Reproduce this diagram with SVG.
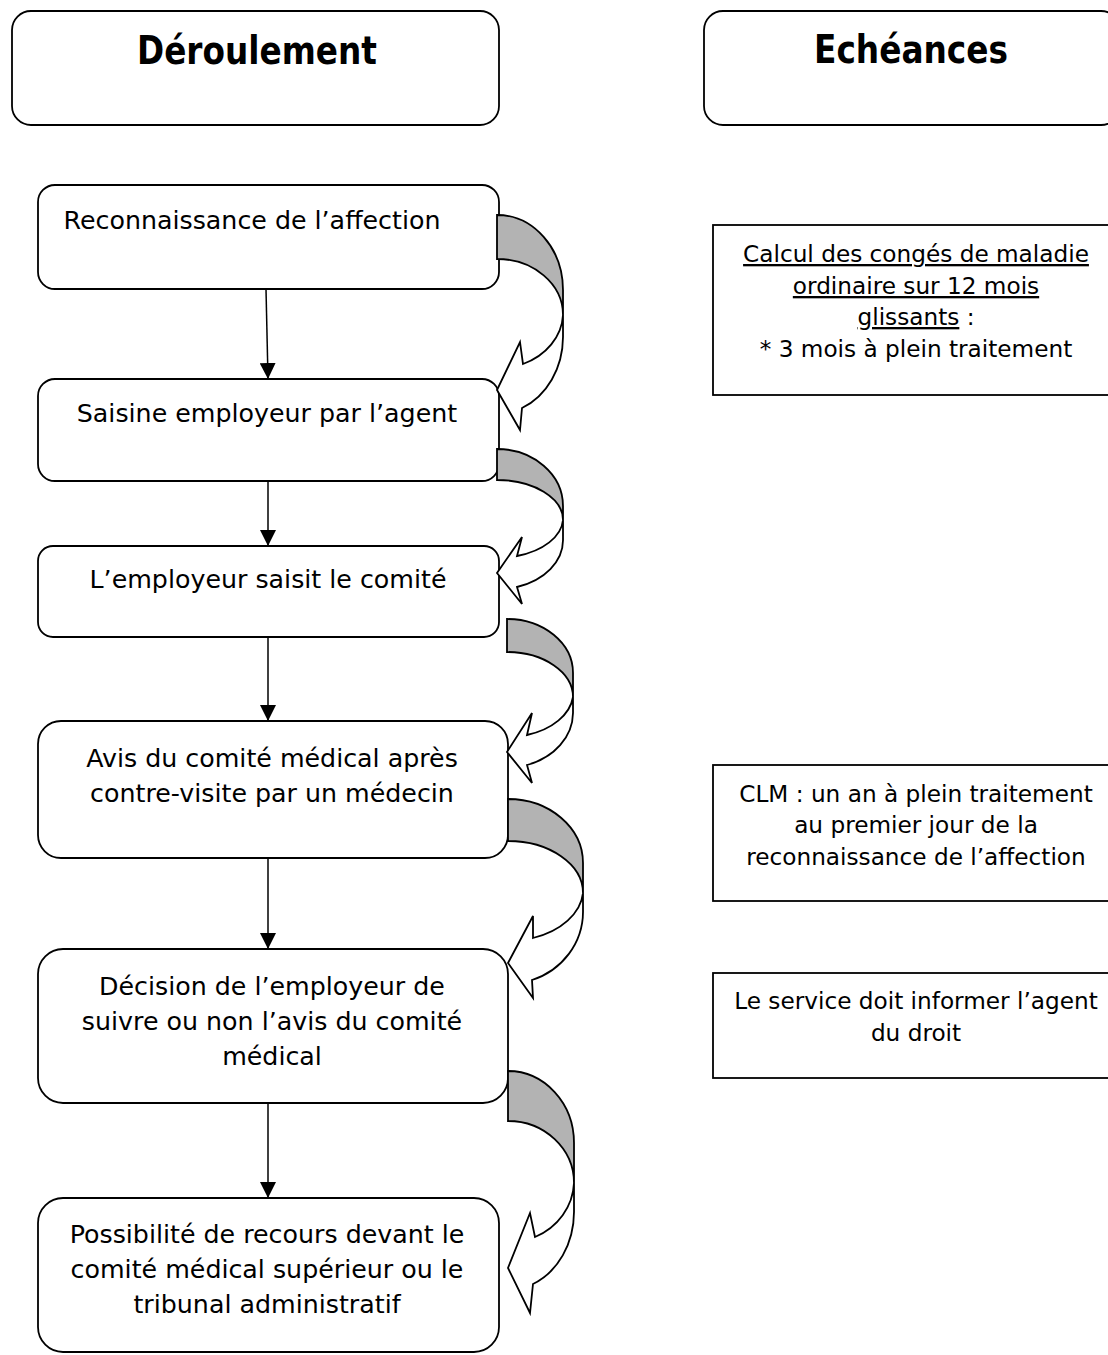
<svg xmlns="http://www.w3.org/2000/svg" width="1108" height="1355" viewBox="0 0 1108 1355">
<style>
  .box { fill: #ffffff; stroke: #000000; stroke-width: 1.8; }
  .title { font-family: "DejaVu Sans", Verdana, sans-serif; font-weight: bold; font-size: 39px; fill: #000; text-anchor: middle; }
  .t { font-family: "DejaVu Sans", Verdana, sans-serif; font-size: 25.3px; fill: #000; text-anchor: middle; }
  .tr { font-family: "DejaVu Sans", Verdana, sans-serif; font-size: 23.2px; fill: #000; text-anchor: middle; }
  .back { fill: #b3b3b3; stroke: #000; stroke-width: 1.8; stroke-linejoin: miter; }
  .front { fill: #ffffff; stroke: #000; stroke-width: 1.8; stroke-linejoin: miter; }
  .link { stroke: #000; stroke-width: 1.5; fill: none; }
</style>
<defs>
  <marker id="ah" markerUnits="userSpaceOnUse" markerWidth="17" markerHeight="16" refX="16" refY="8" orient="auto" viewBox="0 0 17 16">
    <path d="M0,0 L16,8 L0,16 Z" fill="#000"/>
  </marker>
</defs>
<rect width="1108" height="1355" fill="#ffffff"/>

<g id="header-deroulement">
  <rect class="box" x="12" y="11" width="487" height="114" rx="19" ry="19"/>
  <text class="title" x="257" y="64" textLength="240" lengthAdjust="spacingAndGlyphs">Déroulement</text>
</g>
<g id="header-echeances">
  <rect class="box" x="704" y="11" width="416" height="114" rx="19" ry="19"/>
  <text class="title" x="911" y="63" textLength="194" lengthAdjust="spacingAndGlyphs">Echéances</text>
</g>

<g id="n1">
  <rect class="box" x="38" y="185" width="461" height="104" rx="17" ry="17"/>
  <text class="t" x="252" y="229">Reconnaissance de l’affection</text>
</g>
<g id="n2">
  <rect class="box" x="38" y="379" width="461" height="102" rx="17" ry="17"/>
  <text class="t" x="267" y="422">Saisine employeur par l’agent</text>
</g>
<g id="n3">
  <rect class="box" x="38" y="546" width="461" height="91" rx="15" ry="15"/>
  <text class="t" x="268" y="588">L’employeur saisit le comité</text>
</g>
<g id="n4">
  <rect class="box" x="38" y="721" width="470" height="137" rx="23" ry="23"/>
  <text class="t" x="272" y="767">Avis du comité médical après</text>
  <text class="t" x="272" y="802">contre-visite par un médecin</text>
</g>
<g id="n5">
  <rect class="box" x="38" y="949" width="470" height="154" rx="25" ry="25"/>
  <text class="t" x="272" y="995">Décision de l’employeur de</text>
  <text class="t" x="272" y="1030">suivre ou non l’avis du comité</text>
  <text class="t" x="272" y="1065">médical</text>
</g>
<g id="n6">
  <rect class="box" x="38" y="1198" width="461" height="154" rx="25" ry="25"/>
  <text class="t" x="267" y="1243">Possibilité de recours devant le</text>
  <text class="t" x="267" y="1278">comité médical supérieur ou le</text>
  <text class="t" x="267" y="1313">tribunal administratif</text>
</g>

<g id="e1">
  <rect class="box" x="713" y="225" width="407" height="170"/>
  <text class="tr" x="916" y="262"><tspan text-decoration="underline">Calcul des congés de maladie</tspan></text>
  <text class="tr" x="916" y="294"><tspan text-decoration="underline">ordinaire sur 12 mois</tspan></text>
  <text class="tr" x="916" y="325"><tspan text-decoration="underline">glissants</tspan> :</text>
  <text class="tr" x="916" y="357">* 3 mois à plein traitement</text>
</g>
<g id="e2">
  <rect class="box" x="713" y="765" width="407" height="136"/>
  <text class="tr" x="916" y="802">CLM : un an à plein traitement</text>
  <text class="tr" x="916" y="833">au premier jour de la</text>
  <text class="tr" x="916" y="865">reconnaissance de l’affection</text>
</g>
<g id="e3">
  <rect class="box" x="713" y="973" width="407" height="105"/>
  <text class="tr" x="916" y="1009">Le service doit informer l’agent</text>
  <text class="tr" x="916" y="1041">du droit</text>
</g>

<g id="connectors">
  <line class="link" x1="266" y1="289" x2="268" y2="379" marker-end="url(#ah)"/>
  <line class="link" x1="268" y1="481" x2="268" y2="546" marker-end="url(#ah)"/>
  <line class="link" x1="268" y1="637" x2="268" y2="721" marker-end="url(#ah)"/>
  <line class="link" x1="268" y1="858" x2="268" y2="949" marker-end="url(#ah)"/>
  <line class="link" x1="268" y1="1103" x2="268" y2="1198" marker-end="url(#ah)"/>

  <g id="curve1">
    <path class="back" d="M497,215 A66,75 0 0 1 563,290 L563,315 A66,56 0 0 0 497,259 Z"/>
    <path class="front" d="M563,315 A66,56 0 0 1 523,364 L520,342 L497,390 L520,430 L522,408 A66,77 0 0 0 563,337 Z"/>
  </g>
  <g id="curve2">
    <path class="back" d="M497,449 A66,57 0 0 1 563,506 L563,520 A66,40 0 0 0 497,480 Z"/>
    <path class="front" d="M563,520 A66,40 0 0 1 517,556 L522,537 L497,573 L522,604 L517,587 A66,49 0 0 0 563,540 Z"/>
  </g>
  <g id="curve3">
    <path class="back" d="M507,619 A66,54 0 0 1 573,673 L573,697 A66,45 0 0 0 507,652 Z"/>
    <path class="front" d="M573,697 A66,45 0 0 1 527,735 L532,713 L507,752 L532,783 L527,765 A66,55 0 0 0 573,713 Z"/>
  </g>
  <g id="curve4">
    <path class="back" d="M508,799 A75,64 0 0 1 583,863 L583,893 A75,52 0 0 0 508,841 Z"/>
    <path class="front" d="M583,893 A75,52 0 0 1 533,938 L533,916 L508,963 L533,998 L532,980 A75,72 0 0 0 583,912 Z"/>
  </g>
  <g id="curve5">
    <path class="back" d="M508,1071 A66,72 0 0 1 574,1143 L574,1183 A66,62 0 0 0 508,1121 Z"/>
    <path class="front" d="M574,1183 A66,62 0 0 1 535,1237 L530,1213 L508,1268 L530,1313 L533,1284 A66,78 0 0 0 574,1212 Z"/>
  </g>
</g>
</svg>
